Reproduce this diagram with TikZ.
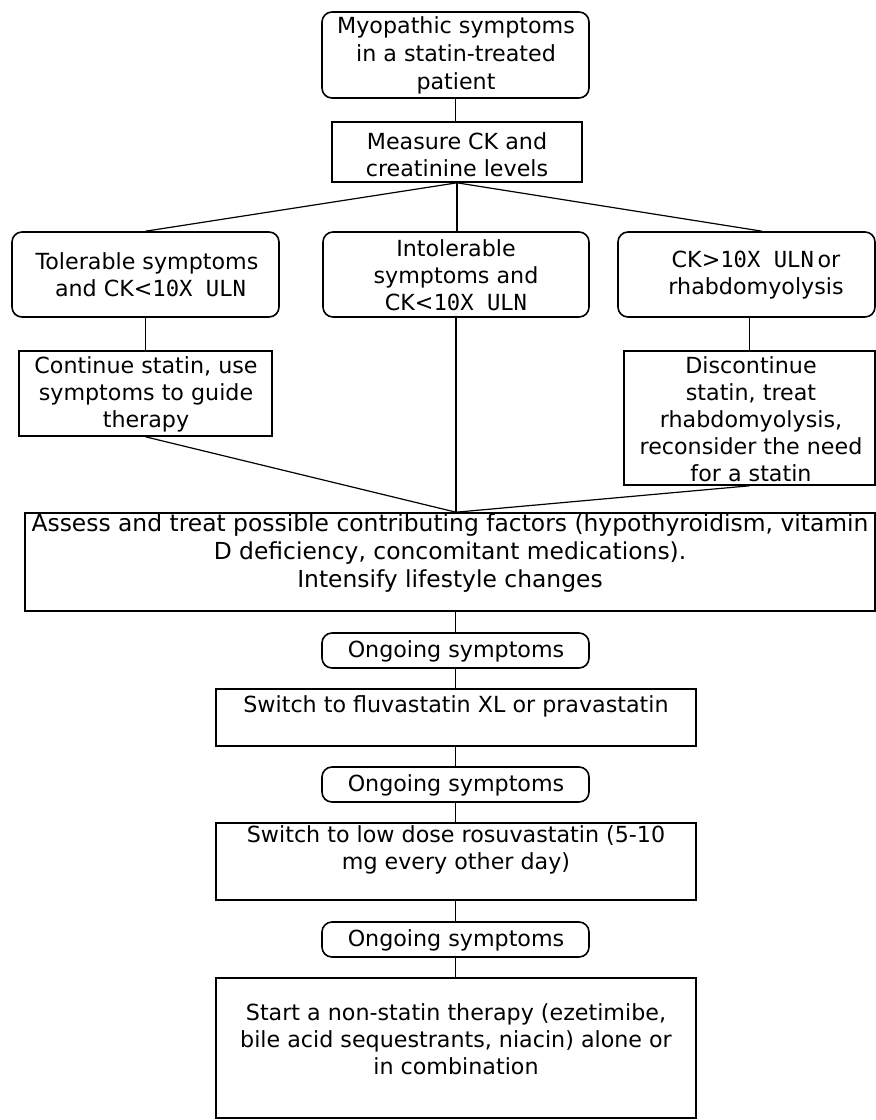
\documentclass[tikz,border=0pt]{standalone}
\usepackage{fontspec}
\setmainfont{DejaVu Sans}
\newfontfamily\ulnfont{DejaVu Sans Mono}
\usetikzlibrary{fit,calc}
\newcommand{\fsz}{\fontsize{11.1}{13.5}\selectfont}
\newcommand{\fszb}{\fontsize{11.7}{13.8}\selectfont}
\newcommand{\uln}{{\ulnfont 10X ULN}}
\begin{document}
\begin{tikzpicture}[x=0.5pt,y=-0.5pt,
  sbox/.style={draw, line width=0.8pt, inner sep=0pt},
  rbox/.style={draw, line width=0.8pt, inner sep=0pt, rounded corners=5pt},
  txt/.style={align=center, inner sep=0pt, font=\fsz},
  conn/.style={line width=0.6pt}]
\useasboundingbox (0,0) rectangle (875,1120);
% boxes
\node[rbox, fit={(322,12)(589,98)}] (top) {};
\node[sbox, fit={(332,122)(582,182)}] (meas) {};
\node[rbox, fit={(12,232)(279,317)}] (left) {};
\node[rbox, fit={(323,232)(589,317)}] (mid) {};
\node[rbox, fit={(618,232)(875,317)}] (right) {};
\node[sbox, fit={(19,351)(272,436)}] (cont) {};
\node[sbox, fit={(624,351)(875,485)}] (disc) {};
\node[sbox, fit={(25,513)(875,611)}] (assess) {};
\node[rbox, fit={(322,633)(589,668)}] (og1) {};
\node[sbox, fit={(216,689)(696,746)}] (sw1) {};
\node[rbox, fit={(322,767)(589,802)}] (og2) {};
\node[sbox, fit={(216,823)(696,900)}] (sw2) {};
\node[rbox, fit={(322,922)(589,957)}] (og3) {};
\node[sbox, fit={(216,978)(696,1118)}] (start) {};
% texts
\node[txt, font=\fontsize{11.1}{14}\selectfont] (ttop) at (456,55) {Myopathic symptoms\\in a statin-treated\\patient};
\node[txt] (tmeas) at (457,155) {Measure CK and\\creatinine levels};
\node[txt] (tleft) at (147,275) {Tolerable symptoms\\\ and CK<\uln};
\node[txt] (tmid) at (456,275) {Intolerable\\symptoms and\\CK<\uln};
\node[txt] (tright) at (756,275) {CK>\uln\,or\\rhabdomyolysis};
\node[txt] (tcont) at (146,394) {Continue statin, use\\symptoms to guide\\therapy};
\node[txt] (tdisc) at (751,419) {Discontinue\\statin, treat\\rhabdomyolysis,\\reconsider the need\\for a statin};
\node[txt, font=\fszb] (tassess) at (450,553) {Assess and treat possible contributing factors (hypothyroidism, vitamin\\D deficiency, concomitant medications).\\Intensify lifestyle changes};
\node[txt] (tog1) at (456,651) {Ongoing symptoms};
\node[txt] (tsw1) at (456,706) {Switch to fluvastatin XL or pravastatin};
\node[txt] (tog2) at (456,785) {Ongoing symptoms};
\node[txt] (tsw2) at (456,850) {Switch to low dose rosuvastatin (5-10\\mg every other day)};
\node[txt] (tog3) at (456,940) {Ongoing symptoms};
\node[txt] (tstart) at (456,1039) {Start a non-statin therapy (ezetimibe,\\bile acid sequestrants, niacin) alone or\\in combination};
% connectors
\coordinate (rtop) at ($(right.north west)!0.56!(right.north east)$);
\coordinate (jn) at (mid.south |- assess.north);
\draw[conn] (top.south) -- (top.south |- meas.north);
\draw[conn] (meas.south) -- (left.north);
\draw[conn] (meas.south) -- (meas.south |- mid.north);
\draw[conn] (meas.south) -- (rtop);
\draw[conn] (left.south) -- (left.south |- cont.north);
\draw[conn] (disc.north |- right.south) -- (disc.north);
\draw[conn] (mid.south) -- (jn);
\draw[conn] (cont.south) -- (jn);
\draw[conn] (disc.south) -- (jn);
\draw[conn] (og1.north |- assess.south) -- (og1.north);
\draw[conn] (og1.south) -- (og1.south |- sw1.north);
\draw[conn] (sw1.south -| og2.north) -- (og2.north);
\draw[conn] (og2.south) -- (og2.south |- sw2.north);
\draw[conn] (sw2.south -| og3.north) -- (og3.north);
\draw[conn] (og3.south) -- (og3.south |- start.north);
\end{tikzpicture}
\end{document}
